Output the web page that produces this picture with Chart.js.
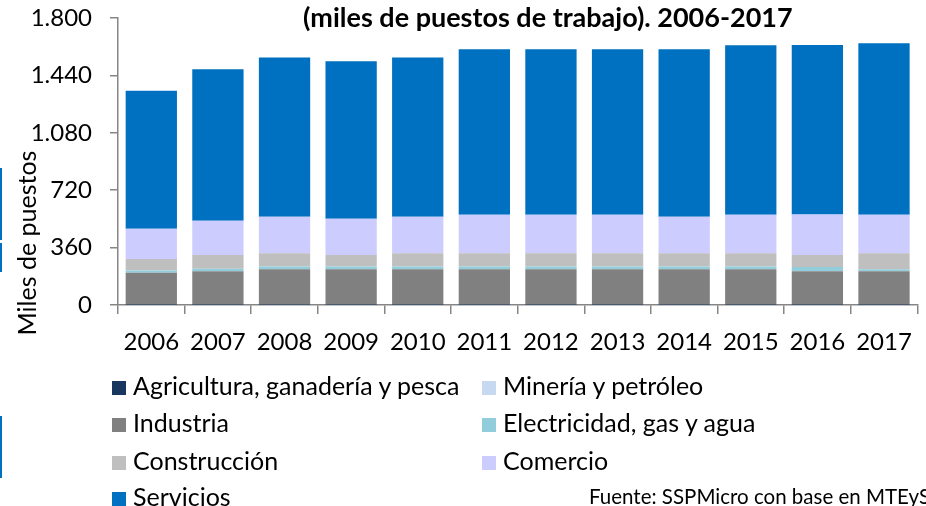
<!DOCTYPE html>
<html>
<head>
<meta charset="utf-8">
<script src="https://cdn.jsdelivr.net/npm/chart.js@4.4.1/dist/chart.umd.min.js"></script>
<style>
  html, body { margin: 0; padding: 0; background: #fff; }
  #wrap { position: relative; width: 926px; height: 506px; overflow: hidden; font-family: Lato, "Noto Sans", sans-serif; color: #000; }
  #chart { position: absolute; left: 0; top: 0; }
  #title { position: absolute; left: 303px; top: 0px; font-weight: bold; font-size: 27px; line-height: 34px; white-space: nowrap; }
  #ytitle { position: absolute; left: 26px; top: 243px; font-size: 25px; white-space: nowrap; transform: translate(-50%, -50%) rotate(-90deg); }
  .item { position: absolute; font-size: 25px; white-space: nowrap; line-height: 28px; }
  .item span { display: inline-block; width: 14px; height: 14px; margin-right: 7px; vertical-align: 0px; }
  #source { position: absolute; left: 589px; top: 484px; font-size: 20.5px; white-space: nowrap; }
  .edge { position: absolute; left: 0; width: 2px; background: #0070c0; }
</style>
</head>
<body>
<div id="wrap">
  <canvas id="chart" width="926" height="506"></canvas>
  <div id="title">(miles de puestos de trabajo). 2006-2017</div>
  <div id="ytitle">Miles de puestos</div>
  <div id="legend"></div>
  <div id="source">Fuente: SSPMicro con base en MTEySS</div>
  <div class="edge" style="top:168px;height:72px"></div>
  <div class="edge" style="top:243px;height:29px"></div>
  <div class="edge" style="top:416px;height:62px"></div>
</div>
<script>
// datos (miles de puestos)
const years = ["2006", "2007", "2008", "2009", "2010", "2011", "2012", "2013", "2014", "2015", "2016", "2017"];
const agricultura = [1, 1, 1, 1, 1, 1, 1, 1, 1, 1, 1, 1];
const mineria = [1, 1, 1, 1, 1, 1, 1, 1, 1, 1, 1, 1];
const industria = [200, 210, 223, 223, 223, 223, 223, 223, 223, 223, 210, 210];
const electricidad = [14, 16, 16, 16, 16, 16, 16, 16, 16, 16, 27, 12];
const construccion = [72, 85, 84, 72, 84, 84, 84, 84, 84, 84, 75, 101];
const comercio = [191, 215, 229, 228, 229, 241, 241, 241, 229, 241, 253, 241];
const servicios = [864, 950, 999, 987, 999, 1038, 1038, 1038, 1050, 1063, 1063, 1075];

const yMax = 1800;
const yStep = 360;

function miles(v) {
    return String(v).replace(/\B(?=(\d{3})+(?!\d))/g, ".");
}

const axisColor = "#868686";
const font = { family: "Lato", size: 24 };

const ctx = document.getElementById("chart");
const chart = new Chart(ctx, {
    type: "bar",
    data: {
        labels: years,
        datasets: [
            { label: "Agricultura, ganadería y pesca", data: agricultura, backgroundColor: "#17375e" },
            { label: "Minería y petróleo", data: mineria, backgroundColor: "#c6d9f1" },
            { label: "Industria", data: industria, backgroundColor: "#808080" },
            { label: "Electricidad, gas y agua", data: electricidad, backgroundColor: "#92cddc" },
            { label: "Construcción", data: construccion, backgroundColor: "#bfbfbf" },
            { label: "Comercio", data: comercio, backgroundColor: "#ccccff" },
            { label: "Servicios", data: servicios, backgroundColor: "#0070c0" },
        ],
    },
    options: {
        responsive: false,
        animation: false,
        layout: { padding: { top: 18, right: 4, left: 0, bottom: 146 } },
        plugins: {
            legend: { display: false },
            tooltip: { enabled: false },
        },
        datasets: {
            bar: { barPercentage: 0.77, categoryPercentage: 1.0 },
        },
        scales: {
            x: {
                stacked: true,
                afterFit: (scale) => { scale.height = 55; },
                grid: { drawOnChartArea: false, offset: true, color: axisColor, lineWidth: 1.5, tickLength: 9 },
                border: { color: axisColor, width: 1.5 },
                ticks: { color: "#000", font: font, padding: 14 },
            },
            y: {
                stacked: true,
                min: 0,
                max: yMax,
                afterFit: (scale) => {
                    scale.width = 118;
                    scale.paddingTop = 0;
                    scale.paddingBottom = 0;
                },
                grid: { drawOnChartArea: false, color: axisColor, lineWidth: 1.5, tickLength: 8 },
                border: { color: axisColor, width: 1.5 },
                ticks: {
                    stepSize: yStep,
                    color: "#000",
                    font: font,
                    padding: 18,
                    callback: (value) => miles(value),
                },
            },
        },
    },
});

// leyenda en dos columnas, como en el original
const legend = document.getElementById("legend");
const colX = [112, 482];
const rowY = [371, 408, 446, 482];
chart.data.datasets.forEach((ds, i) => {
    const el = document.createElement("div");
    el.className = "item";
    el.style.left = colX[i % 2] + "px";
    el.style.top = rowY[Math.floor(i / 2)] + "px";
    el.innerHTML = '<span style="background:' + ds.backgroundColor + '"></span>' + ds.label;
    legend.appendChild(el);
});
</script>
</body>
</html>
